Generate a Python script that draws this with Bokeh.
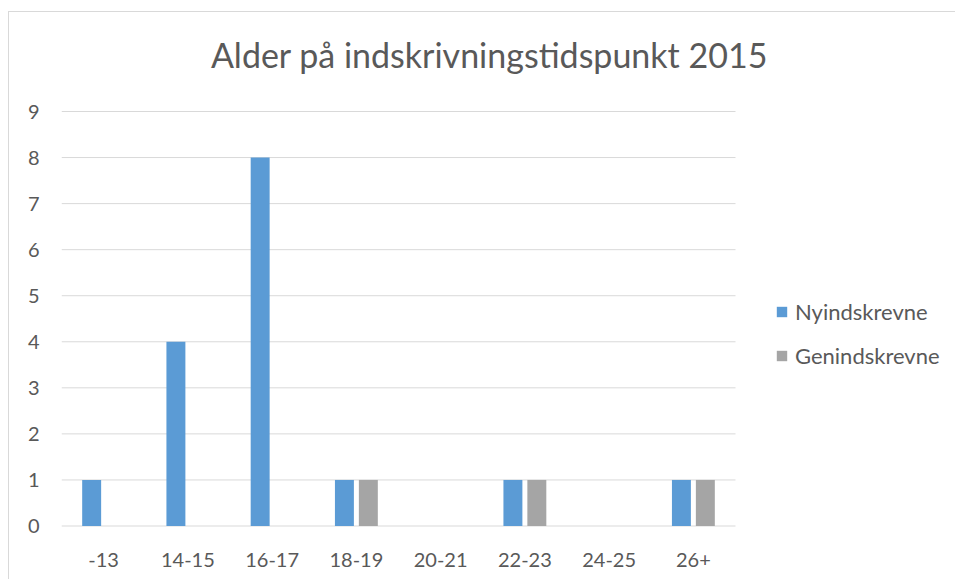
from bokeh.plotting import figure
from bokeh.models import Range1d, Legend, LegendItem, Label, ColumnDataSource, FixedTicker
from bokeh.embed import file_html
from bokeh.resources import INLINE

title_text = "Alder på indskrivningstidspunkt 2015"
categories = ["-13", "14-15", "16-17", "18-19", "20-21", "22-23", "24-25", "26+"]
nyindskrevne = [1, 4, 8, 1, 0, 1, 0, 1]
genindskrevne = [0, 0, 0, 1, 0, 1, 0, 1]
y_ticks = [0, 1, 2, 3, 4, 5, 6, 7, 8, 9]
series_names = ["Nyindskrevne", "Genindskrevne"]
colors = ["#5B9BD5", "#A5A5A5"]

FONT = "Lato"
TXT = "#595959"
GRID = "#D9D9D9"

# ---- layout (pixels) ----
W, H = 947, 568
LEFT = 52
frame_h = 515
BOTTOM = H - frame_h
frame_w = W - LEFT
PLOT_W = 674            # width of the category area
TOP_GAP = 99            # from frame top to the top gridline
BOTTOM_GAP = 1.5        # from zero line to frame bottom
n = len(categories)
ymax = y_ticks[-1]
unit = (frame_h - TOP_GAP - BOTTOM_GAP) / ymax   # px per y unit
y_start = -BOTTOM_GAP / unit
y_end = ymax + TOP_GAP / unit
x_end = n * frame_w / PLOT_W

pos = [i + 0.5 for i in range(n)]
off = 0.142
src = ColumnDataSource(dict(x1=[v - off for v in pos], x2=[v + off for v in pos],
                            ny=nyindskrevne, gen=genindskrevne))

p = figure(width=W, height=H, output_backend="svg", toolbar_location=None,
           x_range=Range1d(0, x_end), y_range=Range1d(y_start, y_end),
           min_border_left=LEFT, min_border_right=0, min_border_top=0, min_border_bottom=BOTTOM)
p.outline_line_color = None
p.background_fill_color = "white"
p.border_fill_color = "white"
p.xgrid.grid_line_color = None
p.ygrid.grid_line_color = None

# horizontal gridlines over the category area only
p.segment(x0=[0] * len(y_ticks), x1=[n] * len(y_ticks), y0=y_ticks, y1=y_ticks,
          line_color=GRID, line_width=1)

r1 = p.vbar(x="x1", top="ny", width=0.225, source=src, fill_color=colors[0], line_color=None)
r2 = p.vbar(x="x2", top="gen", width=0.225, source=src, fill_color=colors[1], line_color=None)

p.yaxis.ticker = FixedTicker(ticks=y_ticks)
p.yaxis.axis_line_color = None
p.yaxis.major_tick_line_color = None
p.yaxis.minor_tick_line_color = None
p.yaxis.major_tick_out = 0
p.yaxis.major_tick_in = 0
p.yaxis.major_label_standoff = 22
p.yaxis.major_label_text_font = FONT
p.yaxis.major_label_text_font_size = "20px"
p.yaxis.major_label_text_color = TXT

p.xaxis.ticker = FixedTicker(ticks=pos)
p.xaxis.major_label_overrides = {v: c for v, c in zip(pos, categories)}
p.xaxis.axis_line_color = None
p.xaxis.major_tick_line_color = None
p.xaxis.minor_tick_line_color = None
p.xaxis.major_tick_out = 0
p.xaxis.major_tick_in = 0
p.xaxis.major_label_standoff = 25
p.xaxis.major_label_text_font = FONT
p.xaxis.major_label_text_font_size = "20px"
p.xaxis.major_label_text_color = TXT

# chart title, centred over the whole chart box
title_x = n * (480 - LEFT) / PLOT_W
title_y = y_end - 42 / unit
p.add_layout(Label(x=title_x, y=title_y, text=title_text, text_align="center",
                   text_baseline="middle", text_font=FONT, text_font_size="34px",
                   text_color=TXT))

legend = Legend(items=[LegendItem(label=series_names[0], renderers=[r1]),
                       LegendItem(label=series_names[1], renderers=[r2])],
                location=(PLOT_W + 40, 158), orientation="vertical",
                border_line_color=None, background_fill_alpha=0,
                padding=0, margin=0, spacing=17,
                glyph_width=13, glyph_height=13, label_standoff=7, label_height=26,
                label_text_font=FONT, label_text_font_size="22px", label_text_color=TXT)
p.add_layout(legend)

p.styles = {"margin-left": "8px", "margin-top": "11px",
            "border-left": "1px solid #D9D9D9", "border-top": "1px solid #D9D9D9"}

open("out.html", "w").write(file_html(p, INLINE))
